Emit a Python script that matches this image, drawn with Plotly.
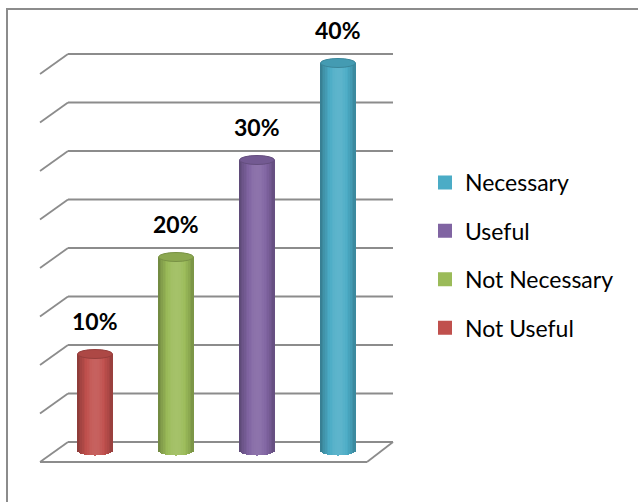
import numpy as np
import plotly.graph_objects as go

# ---------------- data ----------------
categories = ["Not Useful", "Not Necessary", "Useful", "Necessary"]
values = [10, 20, 30, 40]
value_labels = ["10%", "20%", "30%", "40%"]
colors = ["#C0504D", "#9BBB59", "#8064A2", "#4BACC6"]
grid_values = [0, 5, 10, 15, 20, 25, 30, 35, 40]

# ---------------- geometry (pixel calibration) ----------------
W, H = 638, 502
PX_PER_UNIT = 9.7          # pixels per percentage point
ZERO_PY = 451              # pixel row of value 0 at the bar plane
X0_PX, STEP_PX = 95, 81    # pixel centre of first category, spacing


def ux(px):
    return (px - X0_PX) / STEP_PX


def uy(dpx):
    return dpx / PX_PER_UNIT


x_range = [ux(0), ux(W)]
y_range = [-(H - ZERO_PY) / PX_PER_UNIT, ZERO_PY / PX_PER_UNIT]

BAR_W = 35 / STEP_PX
ELL = uy(4.5)            # half height of cylinder ellipses
N_STRIPS = 21


def hex_rgb(h):
    h = h.lstrip("#")
    return [int(h[i:i + 2], 16) for i in (0, 2, 4)]


def shade(hexc, f):
    r = hex_rgb(hexc)
    if f <= 1:
        out = [c * f for c in r]
    else:
        out = [c + (255 - c) * (f - 1) for c in r]
    return "rgb(%d,%d,%d)" % tuple(int(round(max(0, min(255, c)))) for c in out)


def factor(u):
    return 0.70 + 0.40 * np.cos(np.pi / 2 * (u - 0.05) / 1.08)


xs = list(range(len(categories)))
fig = go.Figure()

# cylinder bodies as overlaid vertical strips
sw = BAR_W / N_STRIPS
for k in range(N_STRIPS):
    u = -1 + (2 * k + 1) / N_STRIPS
    base_off = -ELL * np.sqrt(max(0.0, 1 - u * u))
    fig.add_trace(go.Bar(
        x=xs,
        y=[v - base_off for v in values],
        base=[base_off] * len(values),
        offset=-BAR_W / 2 + k * sw,
        width=sw * 1.15,
        marker=dict(color=[shade(c, factor(u)) for c in colors], line=dict(width=0)),
        showlegend=False,
        hoverinfo="skip",
    ))

# legend-only traces (top-to-bottom order as in the reference)
for cat, col in reversed(list(zip(categories, colors))):
    fig.add_trace(go.Bar(
        x=[None], y=[None], name=cat, legendgroup=cat,
        marker=dict(color=col, line=dict(color=col, width=2)),
    ))

shapes = []
# perspective gridlines (back wall + left side wall)
d_front, d_back = uy(11), uy(9)
xf, xb, xr, xrf = ux(40), ux(68), ux(393), ux(367)
gcol = "#8c8c8c"
for v in grid_values:
    segs = [((xf, v - d_front), (xb, v + d_back)), ((xb, v + d_back), (xr, v + d_back))]
    if v == 0:
        segs += [((xr, v + d_back), (xrf, v - d_front)), ((xrf, v - d_front), (xf, v - d_front))]
    for (a, b) in segs:
        shapes.append(dict(type="line", xref="x", yref="y", x0=a[0], y0=a[1], x1=b[0], y1=b[1],
                           line=dict(color=gcol, width=1.8), layer="below"))

# cylinder tops
for i, (v, c) in enumerate(zip(values, colors)):
    shapes.append(dict(type="circle", xref="x", yref="y",
                       x0=i - BAR_W / 2, x1=i + BAR_W / 2, y0=v - ELL, y1=v + ELL,
                       fillcolor=shade(c, 0.9), line=dict(color=shade(c, 0.78), width=1),
                       layer="above"))

# outer chart border (top + left visible)
shapes.append(dict(type="rect", xref="paper", yref="paper",
                   x0=7 / W, x1=1.05, y0=-0.05, y1=1 - 9 / H,
                   line=dict(color="#8c8c8c", width=2), fillcolor="rgba(0,0,0,0)", layer="below"))

annotations = []
for i, (v, t) in enumerate(zip(values, value_labels)):
    annotations.append(dict(x=i, y=v, xref="x", yref="y", text="<b>%s</b>" % t,
                            showarrow=False, yshift=33, yanchor="middle",
                            font=dict(family="Lato", size=23, color="#000000")))

fig.update_layout(
    width=W, height=H,
    margin=dict(l=0, r=0, t=0, b=0),
    paper_bgcolor="white", plot_bgcolor="rgba(0,0,0,0)",
    barmode="overlay", bargap=0,
    xaxis=dict(range=x_range, visible=False, fixedrange=True),
    yaxis=dict(range=y_range, visible=False, fixedrange=True),
    shapes=shapes, annotations=annotations,
    showlegend=True,
    legend=dict(x=425 / W, xanchor="left", y=1 - 161 / H, yanchor="top",
                font=dict(family="Lato", size=23, color="#000000"),
                tracegroupgap=15.5, traceorder="grouped",
                bgcolor="rgba(0,0,0,0)", borderwidth=0),
)

fig.write_html("out.html")
